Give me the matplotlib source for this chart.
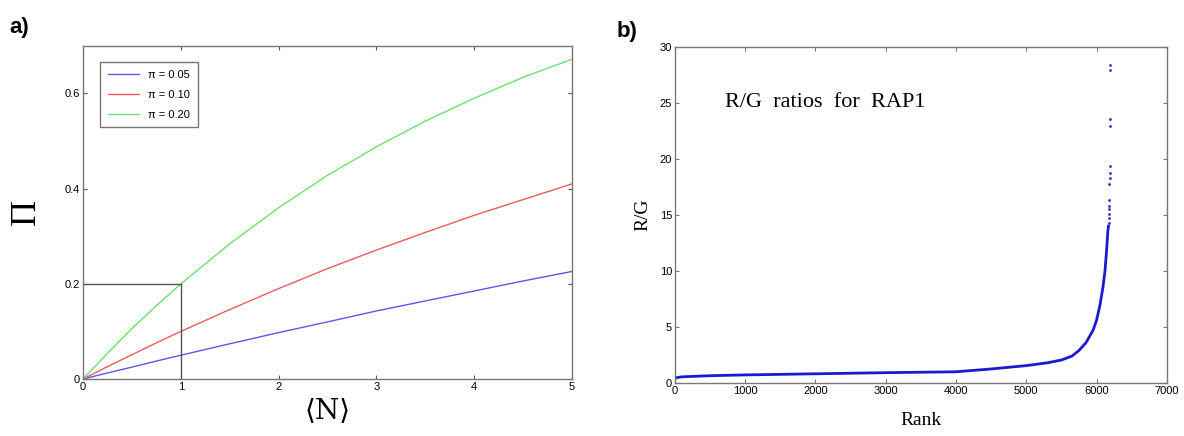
import matplotlib
matplotlib.use("Agg")
import matplotlib.pyplot as plt

plt.rcParams.update({
    "font.family": ["Liberation Sans", "DejaVu Sans"],
    "font.size": 8,
    "xtick.direction": "in",
    "ytick.direction": "in",
    "xtick.top": True,
    "ytick.right": True,
    "xtick.major.size": 3,
    "ytick.major.size": 3,
    "axes.edgecolor": "#777777",
    "axes.linewidth": 1.0,
})

# panel a): probability Pi vs mean <N>
n_mean = [0, 0.25, 0.5, 0.75, 1, 1.5, 2, 2.5, 3, 3.5, 4, 4.5, 5]
pi_005 = [0, 0.0127, 0.025, 0.0377, 0.05, 0.074, 0.0975, 0.12, 0.143, 0.164, 0.185, 0.206, 0.226]
pi_010 = [0, 0.026, 0.051, 0.076, 0.10, 0.146, 0.19, 0.232, 0.271, 0.308, 0.344, 0.377, 0.41]
pi_020 = [0, 0.054, 0.106, 0.154, 0.20, 0.284, 0.36, 0.428, 0.488, 0.542, 0.59, 0.634, 0.672]
series_a = [
    ("\u03c0 = 0.05", pi_005, "#5858ee"),
    ("\u03c0 = 0.10", pi_010, "#ee5a5a"),
    ("\u03c0 = 0.20", pi_020, "#6ee06e"),
]

# panel b): sorted R/G ratios, main body and the sparse tail
rank_body = [0, 100, 500, 1000, 2000, 3000, 4000, 4100, 4500, 5000, 5300, 5500,
             5650, 5750, 5850, 5950, 6000, 6050, 6090, 6120, 6145, 6160, 6170]
rg_body = [0.45, 0.55, 0.65, 0.72, 0.82, 0.92, 1.0, 1.05, 1.25, 1.55, 1.8, 2.05,
           2.4, 2.9, 3.6, 4.7, 5.6, 7.0, 8.5, 10.0, 12.0, 13.5, 14.0]
rank_tail = [6172, 6174, 6176, 6178, 6180, 6182, 6184, 6186, 6188, 6190,
             6192, 6194, 6196, 6198]
rg_tail = [14.3, 14.7, 15.1, 15.5, 15.8, 16.3, 17.8, 18.3, 18.7, 19.4,
           22.9, 23.6, 27.9, 28.4]

fig = plt.figure(figsize=(11.84, 4.36), dpi=100)

# ---- a)
ax = fig.add_axes([0.0701, 0.1307, 0.413, 0.764])
for label, vals, color in series_a:
    ax.plot(n_mean, vals, color=color, lw=1.0, label=label)
ax.plot([1, 1], [0, 0.2], color="#555555", lw=1.0)
ax.plot([0, 1], [0.2, 0.2], color="#555555", lw=1.0)
ax.set_xlim(0, 5)
ax.set_ylim(0, 0.7)
ax.set_xticks([0, 1, 2, 3, 4, 5])
ax.set_yticks([0, 0.2, 0.4, 0.6])
ax.set_yticklabels(["0", "0.2", "0.4", "0.6"])
ax.tick_params(colors="#555555", labelcolor="black", pad=2)
ax.set_ylabel("\u03a0", family="Liberation Serif", fontsize=26, rotation=90, labelpad=16)
ax.set_xlabel("\u27e8N\u27e9", family=["DejaVu Serif"], fontsize=20, labelpad=4)
leg = ax.legend(loc="upper left", bbox_to_anchor=(0.035, 0.952), borderaxespad=0,
                fancybox=False, edgecolor="#555555", fontsize=8, handlelength=2.8,
                labelspacing=0.9, borderpad=0.7)
leg.get_frame().set_linewidth(1.0)
fig.text(0.008, 0.925, "a)", fontsize=16, fontweight="bold")

# ---- b)
bx = fig.add_axes([0.570, 0.1216, 0.4155, 0.771])
bx.plot(rank_body, rg_body, color="#1a1ad0", lw=2.0)
bx.plot(rank_tail, rg_tail, ".", color="#3030c8", ms=2)
bx.set_xlim(0, 7000)
bx.set_ylim(0, 30)
bx.set_xticks(range(0, 7001, 1000))
bx.set_yticks(range(0, 31, 5))
bx.tick_params(colors="#777777", labelcolor="black", pad=2)
bx.text(720, 25, "R/G  ratios  for  RAP1", family="Liberation Serif", fontsize=16,
        va="center")
bx.set_ylabel("R/G", family="Liberation Serif", fontsize=14, labelpad=6)
bx.set_xlabel("Rank", family="Liberation Serif", fontsize=14, labelpad=12)
fig.text(0.521, 0.915, "b)", fontsize=16, fontweight="bold")

fig.savefig("out.png", dpi=100)
